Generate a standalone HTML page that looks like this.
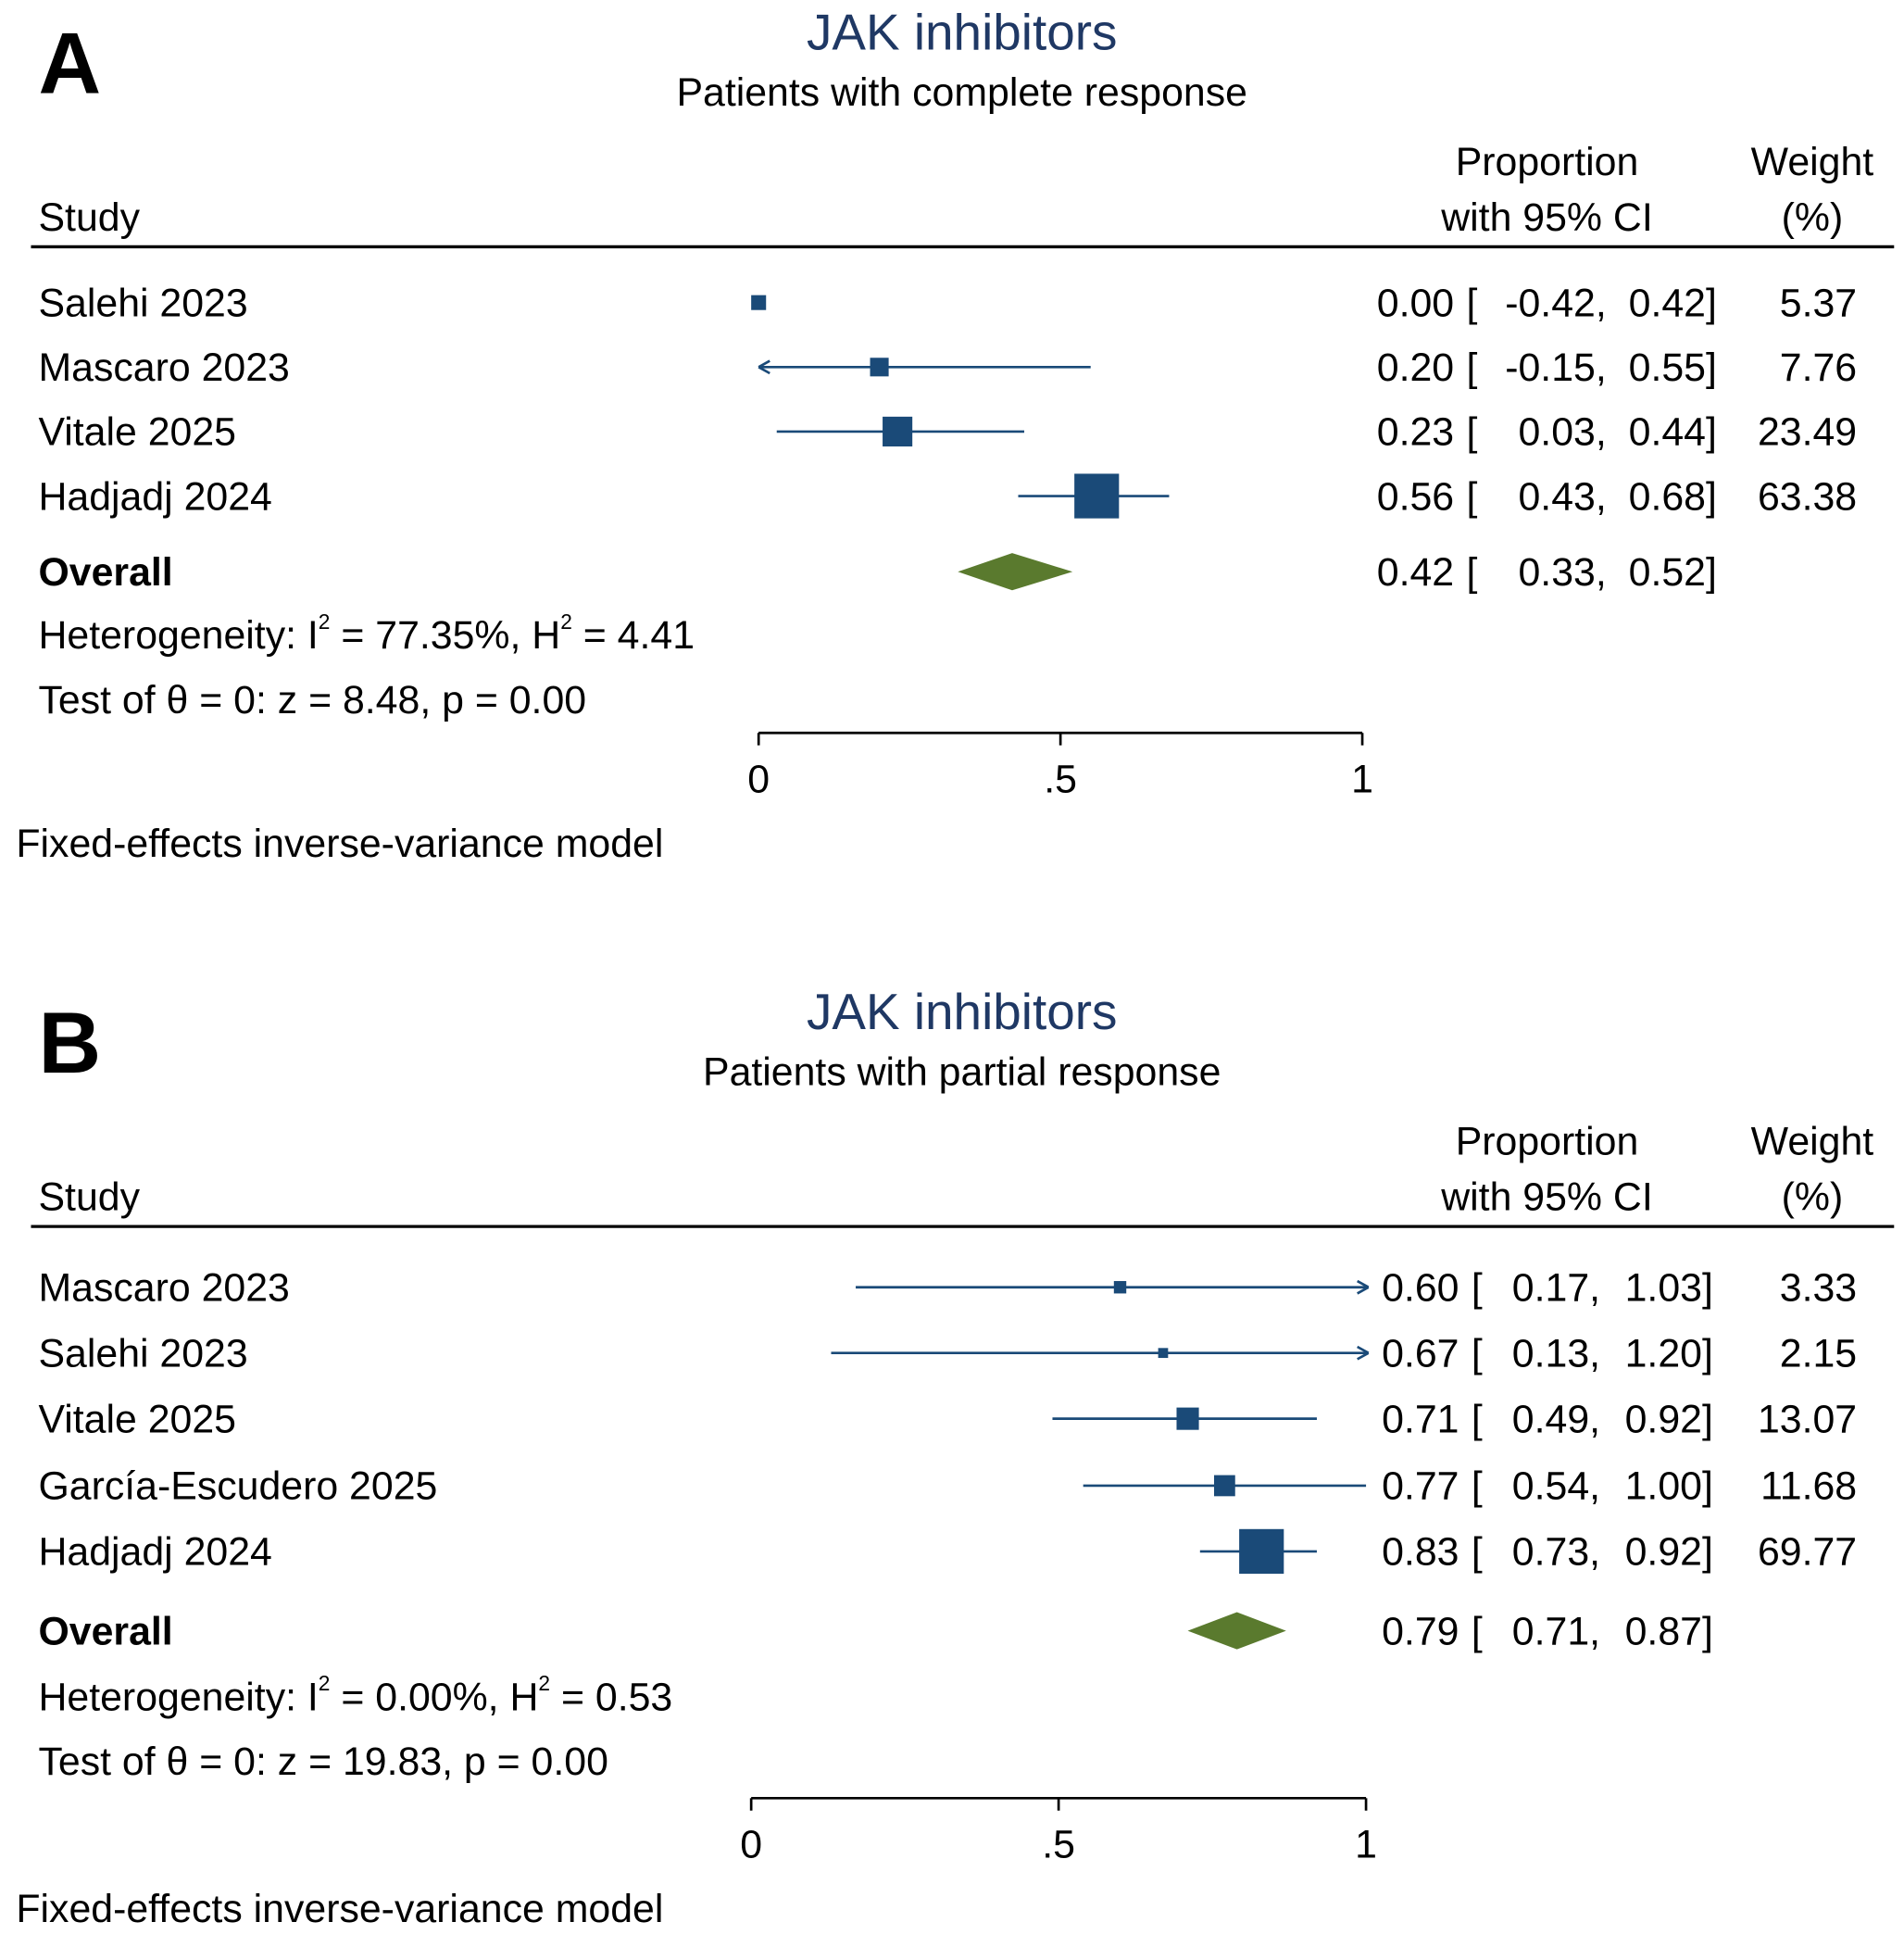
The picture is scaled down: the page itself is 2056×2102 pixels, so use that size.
<!DOCTYPE html>
<html><head><meta charset="utf-8"><style>
html,body{margin:0;padding:0;background:#fff;}
svg{display:block;}
text{font-family:"Liberation Sans",Arial,sans-serif;}
</style></head><body>
<svg id="chart" width="2056" height="2102" viewBox="0 0 1536 1570" preserveAspectRatio="none" xmlns="http://www.w3.org/2000/svg"></svg>
<script>
// Panel A data
const studiesA = ["Salehi 2023","Mascaro 2023","Vitale 2025","Hadjadj 2024"];
const estA = [0.00,0.20,0.23,0.56];
const lowA = [-0.42,-0.15,0.03,0.43];
const highA = [0.42,0.55,0.44,0.68];
const weightA = [5.37,7.76,23.49,63.38];
const overallA = [0.42,0.33,0.52];
// Panel B data
const studiesB = ["Mascaro 2023","Salehi 2023","Vitale 2025","García-Escudero 2025","Hadjadj 2024"];
const estB = [0.60,0.67,0.71,0.77,0.83];
const lowB = [0.17,0.13,0.49,0.54,0.73];
const highB = [1.03,1.20,0.92,1.00,0.92];
const weightB = [3.33,2.15,13.07,11.68,69.77];
const overallB = [0.79,0.71,0.87];
const ticks = [0,0.5,1];
const tickLabels = ["0",".5","1"];

const NS="http://www.w3.org/2000/svg";
const svg=document.getElementById('chart');
function mk(tag,attrs,parent,txt){const e=document.createElementNS(NS,tag);for(const k in attrs)e.setAttribute(k,attrs[k]);if(txt!==undefined)e.textContent=txt;(parent||svg).appendChild(e);return e;}
const NAVY="#1a4a78", GREEN="#5a7a2e", FS=32;

function panel(cfg){
  const g=mk('g',{});
  
  
  const oy=cfg.oy;
  const X=v=>cfg.x0+(v-0)*(cfg.x1-cfg.x0);
  let t;
  t=mk('text',{x:31,y:oy+75,'font-size':70,'font-weight':'bold',fill:'#000'},g,cfg.letter);
  
  t=mk('text',{x:776,y:oy+40,'font-size':41,'text-anchor':'middle',fill:'#1f3864'},g,'JAK inhibitors');
  
  t=mk('text',{x:776,y:oy+85,'font-size':32,'text-anchor':'middle',fill:'#000'},g,cfg.subtitle);
  
  t=mk('text',{x:31,y:oy+186,'font-size':FS},g,'Study');
  
  t=mk('text',{x:1248,y:oy+141,'font-size':FS,'text-anchor':'middle'},g,'Proportion');
  
  t=mk('text',{x:1248,y:oy+186,'font-size':FS,'text-anchor':'middle'},g,'with 95% CI');
  
  t=mk('text',{x:1462,y:oy+141,'font-size':FS,'text-anchor':'middle'},g,'Weight');
  
  t=mk('text',{x:1462,y:oy+186,'font-size':FS,'text-anchor':'middle'},g,'(%)');
  
  t=mk('line',{x1:25,x2:1528,y1:oy+199,y2:oy+199,stroke:'#000','stroke-width':2.5},g);
  
  const c=cfg.cols;
  function numRow(y,vals,name){
    const rg=mk('g',{'font-size':FS},g);
    
    mk('text',{x:c[0],y:y,'text-anchor':'end'},rg,vals[0].toFixed(2));
    mk('text',{x:c[1],y:y},rg,'[');
    mk('text',{x:c[2],y:y,'text-anchor':'end'},rg,vals[1].toFixed(2)+',');
    mk('text',{x:c[3],y:y,'text-anchor':'end'},rg,vals[2].toFixed(2)+']');
    if(vals[3]!==undefined) mk('text',{x:c[4],y:y,'text-anchor':'end'},rg,vals[3].toFixed(2));
  }
  const lo=X(cfg.clipLo), hi=X(cfg.clipHi);
  cfg.studies.forEach((s,i)=>{
    const yc=oy+cfg.rows[i], yb=yc+11;
    t=mk('text',{x:31,y:yb,'font-size':FS},g,s);
    
    numRow(yb,[cfg.est[i],cfg.low[i],cfg.high[i],cfg.weight[i]],'study-values');
    const a=cfg.low[i], b=cfg.high[i];
    const showLine = !(a<cfg.clipLo && cfg.est[i]<=cfg.clipLo);
    if(showLine){
      const xa=Math.max(X(a),lo), xb=Math.min(X(b),hi);
      t=mk('line',{x1:xa,x2:xb,y1:yc,y2:yc,stroke:NAVY,'stroke-width':2},g);
      
      if(a<cfg.clipLo){t=mk('path',{d:`M${xa} ${yc} l9 -5 M${xa} ${yc} l9 5`,stroke:NAVY,'stroke-width':2,fill:'none'},g);}
      if(b>cfg.clipHi){t=mk('path',{d:`M${xb} ${yc} l-9 -5 M${xb} ${yc} l-9 5`,stroke:NAVY,'stroke-width':2,fill:'none'},g);}
    }
    const sz=cfg.sizes[i];
    t=mk('rect',{x:X(cfg.est[i])-sz/2,y:yc-sz/2,width:sz,height:sz,fill:NAVY},g);
    
  });
  const yo=oy+cfg.overallY;
  t=mk('text',{x:31,y:yo+11,'font-size':FS,'font-weight':'bold'},g,'Overall');
  
  numRow(yo+11,cfg.overall,'overall-values');
  const o=cfg.overall;
  t=mk('polygon',{points:`${X(o[1])},${yo} ${X(o[0])},${yo-15} ${X(o[2])},${yo} ${X(o[0])},${yo+15}`,fill:GREEN},g);
  
  t=mk('text',{x:31,y:oy+cfg.hetY,'font-size':FS},g);
  
  t.innerHTML=`Heterogeneity: I<tspan dy="-16" font-size="17">2</tspan><tspan dy="16"> = ${cfg.het[0]}%, H</tspan><tspan dy="-16" font-size="17">2</tspan><tspan dy="16"> = ${cfg.het[1]}</tspan>`;
  t=mk('text',{x:31,y:oy+cfg.hetY+52,'font-size':FS},g,cfg.test);
  
  const ay=oy+cfg.axisY;
  t=mk('line',{x1:X(0),x2:X(1),y1:ay,y2:ay,stroke:'#000','stroke-width':2},g);
  
  ticks.forEach((v,i)=>{
    t=mk('line',{x1:X(v),x2:X(v),y1:ay,y2:ay+10,stroke:'#000','stroke-width':2},g);
    
    t=mk('text',{x:X(v),y:ay+48,'font-size':FS,'text-anchor':'middle'},g,tickLabels[i]);
    
  });
  t=mk('text',{x:13,y:ay+100,'font-size':FS},g,'Fixed-effects inverse-variance model');
  
}
panel({letter:'A',subtitle:'Patients with complete response',oy:0,x0:612,x1:1099,clipLo:0,clipHi:1,
  studies:studiesA,est:estA,low:lowA,high:highA,weight:weightA,overall:overallA,
  rows:[244,296,348,400],sizes:[12,15,24,36],overallY:461,hetY:523,axisY:591,
  cols:[1173,1183,1296,1385,1498],het:['77.35','4.41'],test:'Test of θ = 0: z = 8.48, p = 0.00'});
panel({letter:'B',subtitle:'Patients with partial response',oy:790,x0:606,x1:1102,clipLo:0,clipHi:1.004,
  studies:studiesB,est:estB,low:lowB,high:highB,weight:weightB,overall:overallB,
  rows:[248,301,354,408,461],sizes:[10,8,18,17,36],overallY:525,hetY:589,axisY:660,
  cols:[1177,1187,1291,1382,1498],het:['0.00','0.53'],test:'Test of θ = 0: z = 19.83, p = 0.00'});
</script>
</body></html>
